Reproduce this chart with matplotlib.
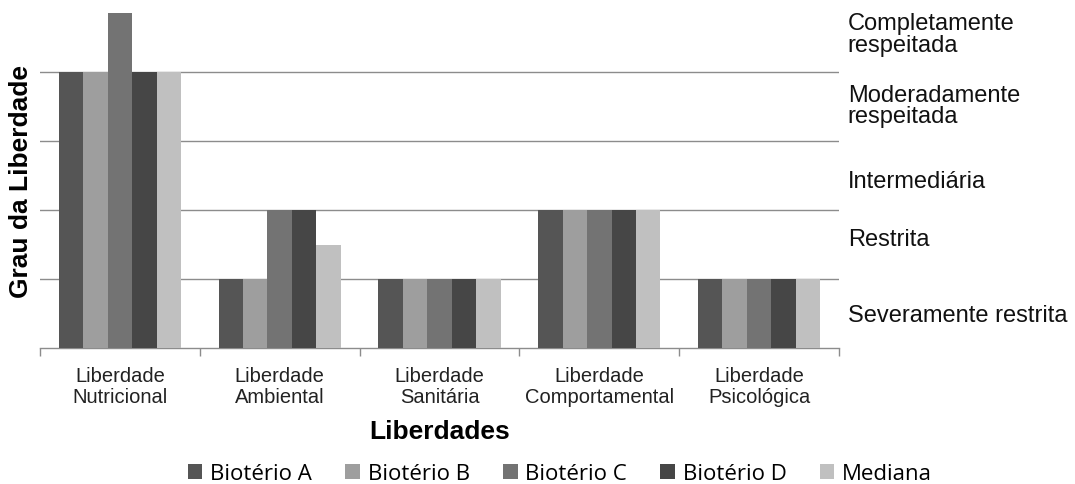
import matplotlib.pyplot as plt
import numpy as np

# dados
categorias = ['Liberdade\nNutricional', 'Liberdade\nAmbiental', 'Liberdade\nSanitária',
              'Liberdade\nComportamental', 'Liberdade\nPsicológica']
biot_a = [4, 1, 1, 2, 1]
biot_b = [4, 1, 1, 2, 1]
biot_c = [5, 2, 1, 2, 1]
biot_d = [4, 2, 1, 2, 1]
mediana = [4, 1.5, 1, 2, 1]

series_nomes = ['Biotério A', 'Biotério B', 'Biotério C', 'Biotério D', 'Mediana']
niveis = ['Severamente restrita', 'Restrita', 'Intermediária',
          'Moderadamente\nrespeitada', 'Completamente\nrespeitada']
niveis_y = [0.48, 1.58, 2.42, 3.51, 4.55]

cores = ['#555555', '#9e9e9e', '#737373', '#464646', '#c0c0c0']

plt.rcParams['font.family'] = ['Liberation Sans', 'DejaVu Sans']

fig = plt.figure(figsize=(10.75, 4.85), dpi=100)
ax = fig.add_axes([0.0372, 0.2804, 0.7433, 0.6907])

x = np.arange(len(categorias))
width = 0.153
valores = [biot_a, biot_b, biot_c, biot_d, mediana]
for i, (vals, nome, cor) in enumerate(zip(valores, series_nomes, cores)):
    ax.bar(x + (i - 2) * width, vals, width, color=cor, label=nome, zorder=3)

ax.set_xlim(-0.5, len(categorias) - 0.5)
ax.set_ylim(0, 4.855)
ax.set_yticks([1, 2, 3, 4])
ax.yaxis.grid(True, color='#8c8c8c', linewidth=1.0, zorder=0)
ax.tick_params(axis='y', left=False, labelleft=False)

ax.set_xticks(x)
ax.set_xticklabels(categorias, fontsize=14.5, color='#222222', linespacing=1.1)
ax.set_xticks(np.arange(-0.5, len(categorias)), minor=True)
ax.tick_params(axis='x', which='major', length=0, pad=13)
ax.tick_params(axis='x', which='minor', length=6, color='#8c8c8c', width=1.0)

for s in ['top', 'right', 'left']:
    ax.spines[s].set_visible(False)
ax.spines['bottom'].set_color('#8c8c8c')
ax.spines['bottom'].set_linewidth(1.0)

ax.set_xlabel('Liberdades', fontsize=19, fontweight='bold', labelpad=10)
ax.set_ylabel('Grau da Liberdade', fontsize=19, fontweight='bold', labelpad=5)

for texto, yv in zip(niveis, niveis_y):
    ax.text(1.011, yv, texto, transform=ax.get_yaxis_transform(), fontsize=17,
            va='center', ha='left', linespacing=0.95, color='#111111')

fig.legend(loc='center', bbox_to_anchor=(0.521, 0.021), ncol=5, frameon=False,
           prop={'family': 'Open Sans', 'size': 16}, handlelength=0.65, handleheight=0.65,
           handletextpad=0.35, columnspacing=1.5)

plt.savefig('out.png', dpi=100)
